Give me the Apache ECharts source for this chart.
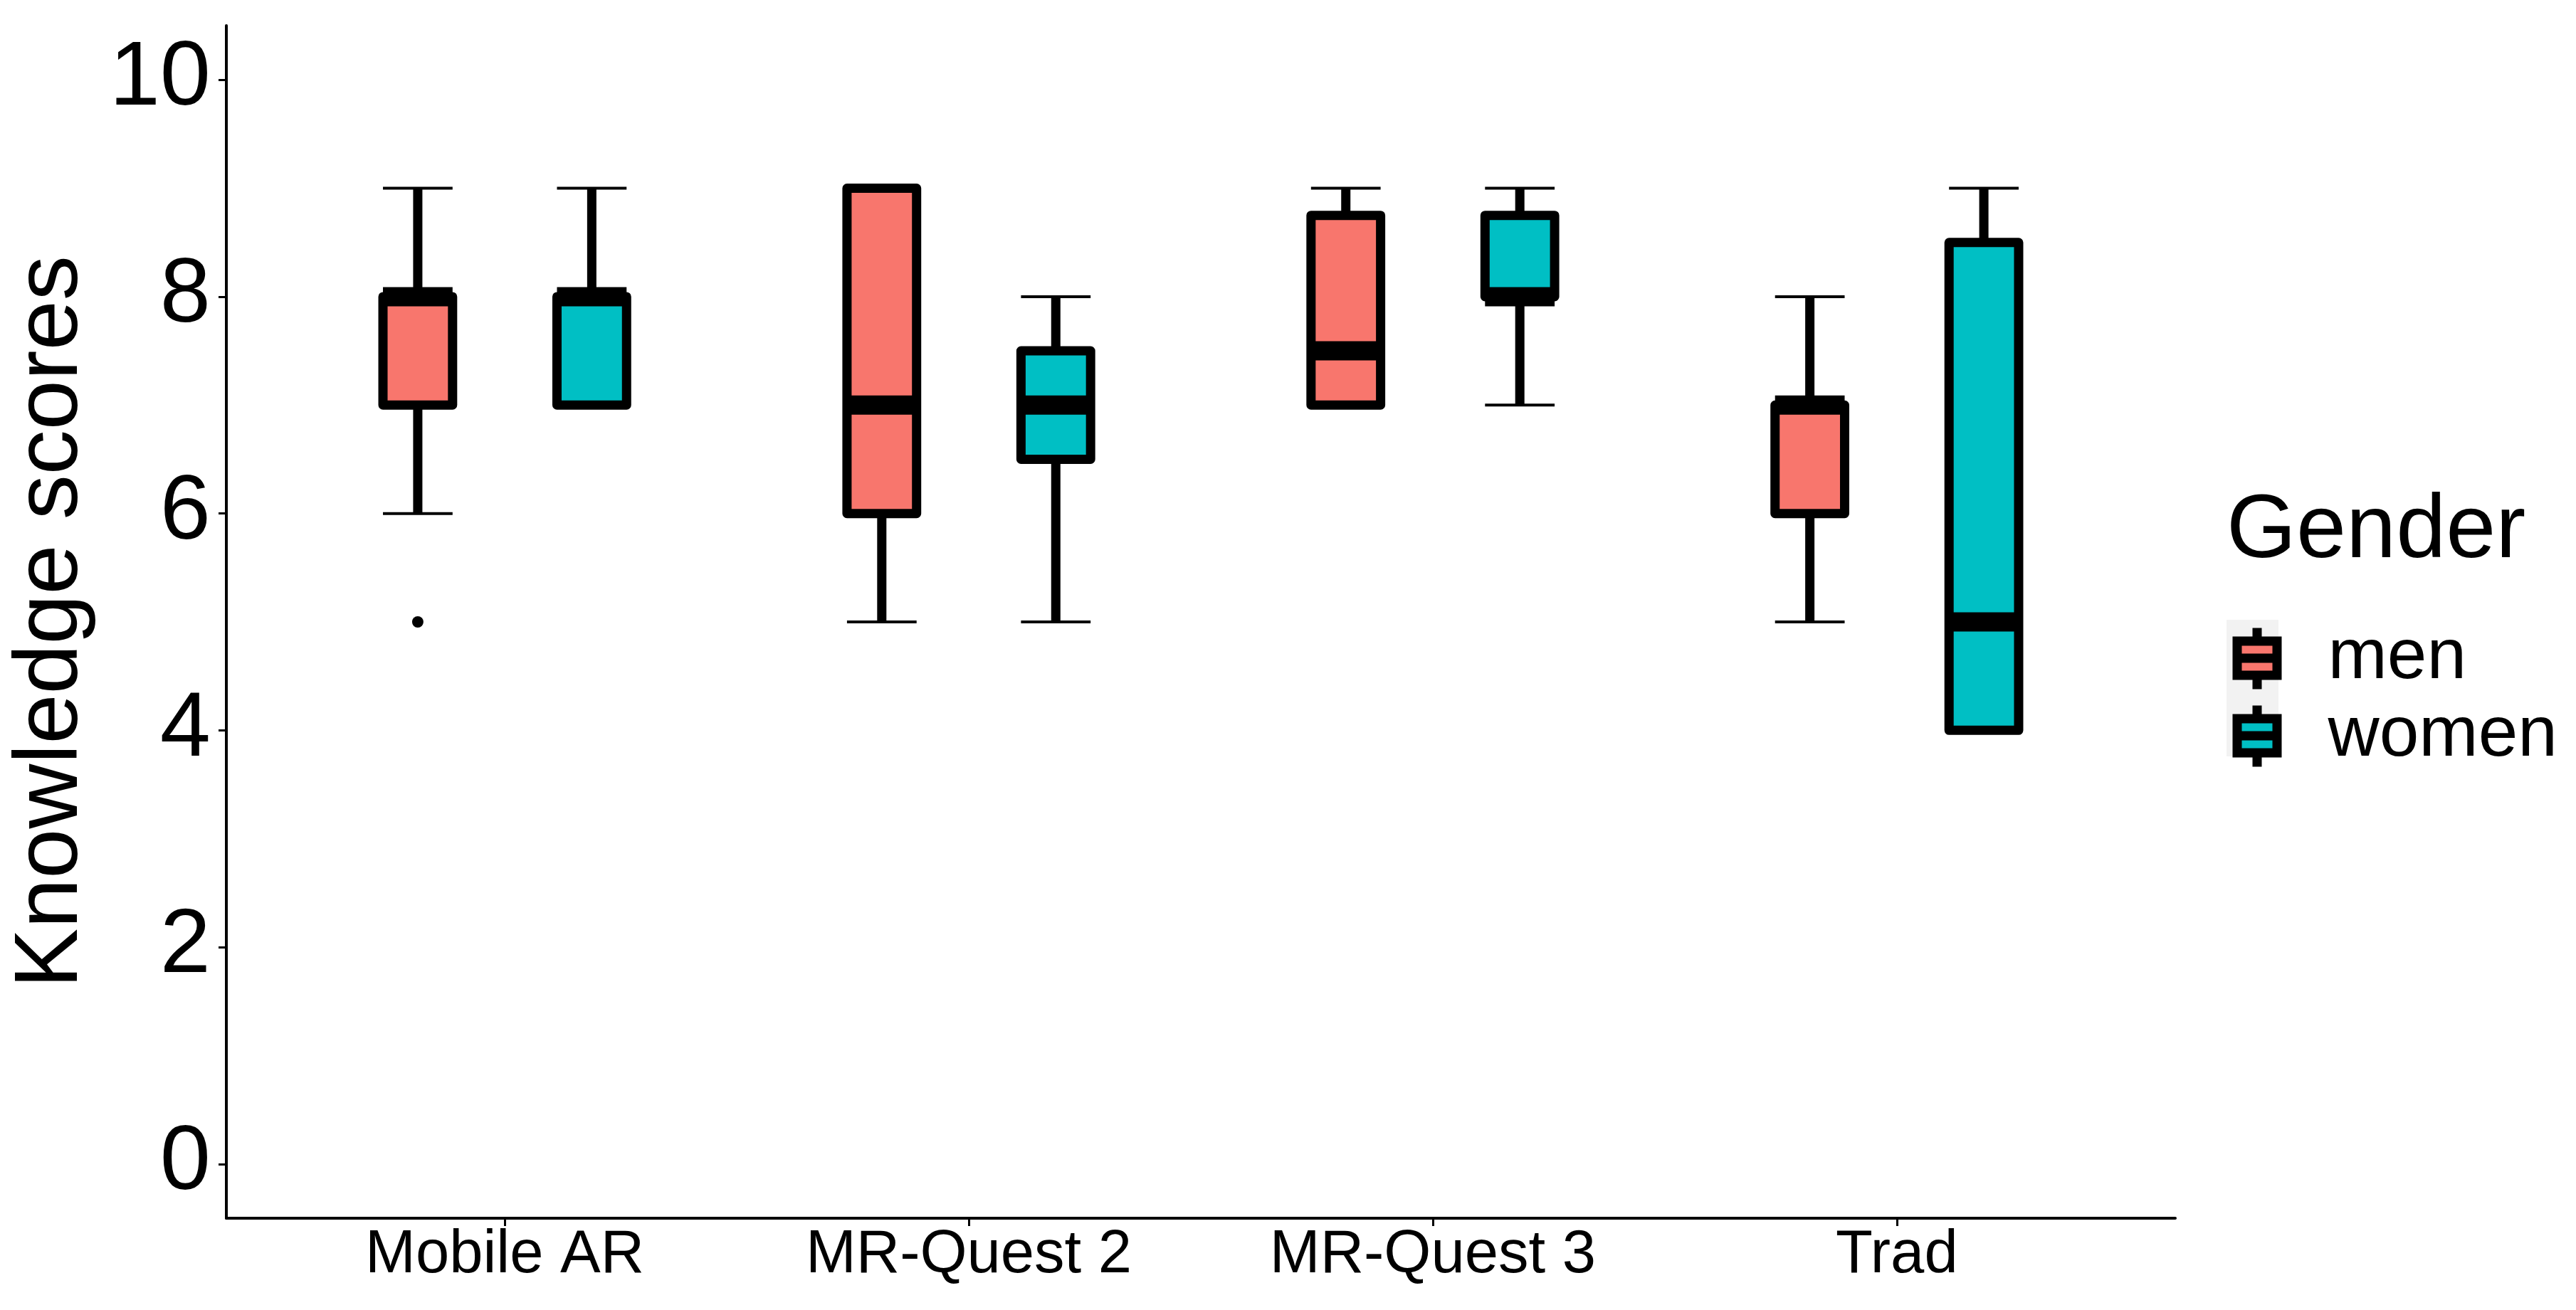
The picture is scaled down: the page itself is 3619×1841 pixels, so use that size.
<!DOCTYPE html>
<html lang="en">
<head>
    <meta charset="UTF-8">
    <title>Knowledge scores by gender</title>
    <script src="https://cdn.jsdelivr.net/npm/echarts@6.0.0/dist/echarts.min.js"></script>
    <style>
        body { margin: 0; background: #fff; }
    </style>
</head>
<body>
<div id="pic1" style="width:3619px;height:1841px;"></div>

<script>
    // data
    var categories = ['Mobile AR', 'MR-Quest 2', 'MR-Quest 3', 'Trad'];
    var genders = ['men', 'women'];
    // [min, Q1, median, Q3, max] per category
    var menStats = [
        [6, 7, 8, 8, 9],
        [5, 6, 7, 9, 9],
        [7, 7, 7.5, 8.75, 9],
        [5, 6, 7, 7, 8]
    ];
    var womenStats = [
        [7, 7, 8, 8, 9],
        [5, 6.5, 7, 7.5, 8],
        [7, 8, 8, 8.75, 9],
        [4, 4, 5, 8.5, 9]
    ];
    // [category index, value]
    var menOutliers = [[0, 5]];
    var yTicks = [0, 2, 4, 6, 8, 10];

    var colors = {men: '#F8766D', women: '#00BFC4'};
    var dodge = 0.1875;   // ggplot dodge offset (0.75 / 4)
    var halfBox = 0.075;  // half of box width (0.15)
    var font = 'Liberation Sans, Arial, sans-serif';

    // x position = category number +/- dodge
    function toSeriesData(stats, shift) {
        return stats.map(function (s, i) {
            return [i + 1 + shift].concat(s);
        });
    }

    function renderBox(color) {
        return function (params, api) {
            var x = api.value(0);
            var pMin = api.coord([x, api.value(1)]);
            var pQ1 = api.coord([x, api.value(2)]);
            var pMed = api.coord([x, api.value(3)]);
            var pQ3 = api.coord([x, api.value(4)]);
            var pMax = api.coord([x, api.value(5)]);
            var hw = api.size([halfBox, 0])[0];
            var cx = pMed[0];
            var black = '#000';
            return {
                type: 'group',
                children: [
                    // whiskers
                    {type: 'line', shape: {x1: cx, y1: pQ3[1], x2: cx, y2: pMax[1]}, style: {stroke: black, lineWidth: 13}},
                    {type: 'line', shape: {x1: cx, y1: pQ1[1], x2: cx, y2: pMin[1]}, style: {stroke: black, lineWidth: 13}},
                    // caps
                    {type: 'line', shape: {x1: cx - hw, y1: pMax[1], x2: cx + hw, y2: pMax[1]}, style: {stroke: black, lineWidth: 4}},
                    {type: 'line', shape: {x1: cx - hw, y1: pMin[1], x2: cx + hw, y2: pMin[1]}, style: {stroke: black, lineWidth: 4}},
                    // box
                    {
                        type: 'rect',
                        shape: {x: cx - hw, y: pQ3[1], width: hw * 2, height: pQ1[1] - pQ3[1]},
                        style: {fill: color, stroke: black, lineWidth: 13, lineJoin: 'round'}
                    },
                    // median
                    {type: 'line', shape: {x1: cx - hw, y1: pMed[1], x2: cx + hw, y2: pMed[1]}, style: {stroke: black, lineWidth: 27}}
                ]
            };
        };
    }

    var catTicks = categories.map(function (c, i) { return i + 1; });

    // legend key: box with whiskers and median (corner moves keep the path at 73x96 so it is not rescaled)
    var keyIcon = 'path://M0,0 L0,0 M73,96 L73,96 ' +
        'M8.5,23.5 L64.5,23.5 L64.5,71.5 L8.5,71.5 Z M8.5,47.5 L64.5,47.5 ' +
        'M36.5,5 L36.5,23.5 M36.5,71.5 L36.5,91';

    var myCharts1 = echarts.init(document.getElementById('pic1'));
    var option1 = {
        backgroundColor: '#fff',
        animation: false,
        textStyle: {fontFamily: font},
        title: {
            text: 'Gender',
            left: 3128,
            top: 685,
            padding: 0,
            textStyle: {fontSize: 126, fontWeight: 'normal', color: '#000', fontFamily: font}
        },
        legend: {
            orient: 'vertical',
            left: 3128,
            top: 871,
            padding: 0,
            itemGap: 0,
            itemWidth: 73,
            itemHeight: 96,
            selectedMode: false,
            textStyle: {fontSize: 100, color: '#000', fontFamily: font, padding: [0, 0, 0, 58]},
            data: genders.map(function (g) {
                return {
                    name: g,
                    icon: keyIcon,
                    itemStyle: {color: colors[g], borderColor: '#000', borderWidth: 13}
                };
            })
        },
        graphic: [{
            type: 'rect',
            left: 3128,
            top: 871,
            shape: {width: 73, height: 192},
            style: {fill: '#F2F2F2'},
            z: 0
        }],
        grid: {left: 318, right: 563, top: 36, bottom: 129},
        xAxis: {
            type: 'value',
            min: 0.4,
            max: 4.6,
            splitLine: {show: false},
            axisLine: {show: true, onZero: false, lineStyle: {color: '#000', width: 4}},
            axisTick: {show: true, customValues: catTicks, length: 11, lineStyle: {color: '#000', width: 3}},
            axisLabel: {
                customValues: catTicks,
                margin: 10,
                fontSize: 85,
                color: '#000',
                fontFamily: font,
                formatter: function (v) { return categories[v - 1]; }
            }
        },
        yAxis: {
            type: 'value',
            min: -0.5,
            max: 10.5,
            name: 'Knowledge scores',
            nameLocation: 'middle',
            nameGap: 182,
            nameTextStyle: {fontSize: 126, color: '#000', fontFamily: font},
            splitLine: {show: false},
            axisLine: {show: true, onZero: false, lineStyle: {color: '#000', width: 4}},
            axisTick: {show: true, customValues: yTicks, length: 11, lineStyle: {color: '#000', width: 3}},
            axisLabel: {customValues: yTicks, margin: 22, fontSize: 128, color: '#000', fontFamily: font}
        },
        series: [
            {
                name: 'men',
                type: 'custom',
                itemStyle: {color: colors.men},
                renderItem: renderBox(colors.men),
                encode: {x: 0, y: [1, 2, 3, 4, 5]},
                data: toSeriesData(menStats, -dodge)
            },
            {
                name: 'women',
                type: 'custom',
                itemStyle: {color: colors.women},
                renderItem: renderBox(colors.women),
                encode: {x: 0, y: [1, 2, 3, 4, 5]},
                data: toSeriesData(womenStats, dodge)
            },
            {
                name: 'men outliers',
                type: 'scatter',
                symbolSize: 16,
                itemStyle: {color: '#000', opacity: 1},
                data: menOutliers.map(function (o) { return [o[0] + 1 - dodge, o[1]]; })
            }
        ]
    };
    myCharts1.setOption(option1);
</script>
</body>
</html>
